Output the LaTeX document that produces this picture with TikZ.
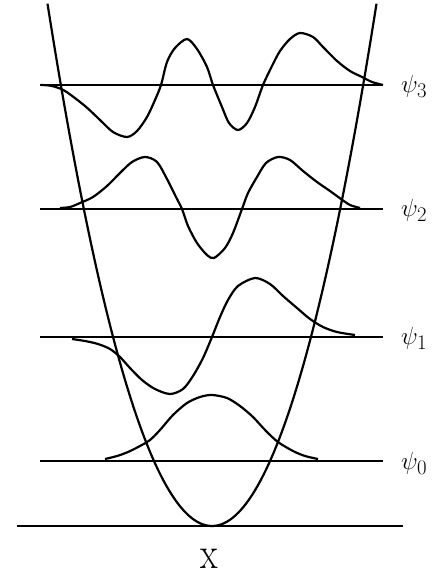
\documentclass[tikz,border=0pt]{standalone}
\begin{document}
\begin{tikzpicture}[x=1pt,y=-1pt,
  level/.style={line width=2.6pt},
  wave/.style={line width=2.2pt, line join=round},
  pot/.style={line width=2.2pt},
  lbl/.style={anchor=west, inner sep=0pt, font=\fontsize{32}{34}\selectfont}]
\useasboundingbox (0,0) rectangle (439,577);
% energy levels and axis
\coordinate (L3a) at (40,85);  \coordinate (L3b) at (383,85);
\coordinate (L2a) at (40,209); \coordinate (L2b) at (383,209);
\coordinate (L1a) at (40,337); \coordinate (L1b) at (383,337);
\coordinate (L0a) at (40,461); \coordinate (L0b) at (383,461);
\coordinate (Xa) at (17,526);  \coordinate (Xb) at (403,526);
\draw[level] (L3a) -- (L3b);
\draw[level] (L2a) -- (L2b);
\draw[level] (L1a) -- (L1b);
\draw[level] (L0a) -- (L0b);
\draw[level] (Xa) -- (Xb);
% potential
\draw[pot] plot[domain=47.5:376.5, samples=120] (\x, {526-0.0193*(\x-212)*(\x-212)});
% psi_3
\draw[wave] plot[smooth] coordinates {(41,85) (52,86) (65,91) (85,106) (100,120) (113,132) (127,137) (137,131) (147,117) (155,100) (161,85) (167,62) (175,48) (187,39) (197,49) (207,67) (213,85) (222,107) (229,123) (238,130) (247,123) (255,107) (263,85) (272,66) (280,51) (290,39) (300,33) (313,37) (323,47) (337,61) (350,71) (362,77) (372,82) (383,85)};
% psi_2
\draw[wave] plot[smooth] coordinates {(60,208) (70,207) (80,203) (93,197) (107,186) (120,173) (132,162) (145,157) (157,162) (167,179) (176,197) (182,209) (188,226) (197,243) (207,255) (214,258) (225,248) (233,233) (242,209) (248,193) (257,177) (266,163) (278,157) (290,160) (303,171) (317,182) (330,191) (341,199) (350,205) (360,208)};
% psi_1
\draw[wave] plot[smooth] coordinates {(72,339) (85,341) (98,344) (110,349) (120,357) (130,368) (142,380) (155,389) (170,394) (183,389) (193,376) (203,358) (212,337) (220,317) (228,300) (238,286) (255,278) (270,284) (283,296) (297,308) (310,319) (323,327) (337,332) (355,335)};
% psi_0
\draw[wave] plot[smooth] coordinates {(105,459) (117,456) (128,452) (140,446) (150,440) (160,430) (173,415) (187,403) (200,397) (212,395) (227,398) (240,406) (253,417) (266,431) (278,442) (293,451) (305,456) (318,459)};
% labels
\node[lbl] (p3) at (401,86) {$\psi_3$};
\node[lbl] (p2) at (401,210) {$\psi_2$};
\node[lbl] (p1) at (401,338) {$\psi_1$};
\node[lbl] (p0) at (401,463) {$\psi_0$};
\node[inner sep=0pt, font=\fontsize{36}{38}\selectfont] (xl) at (209,559) {\scalebox{1}[1.25]{x}};
\end{tikzpicture}
\end{document}
